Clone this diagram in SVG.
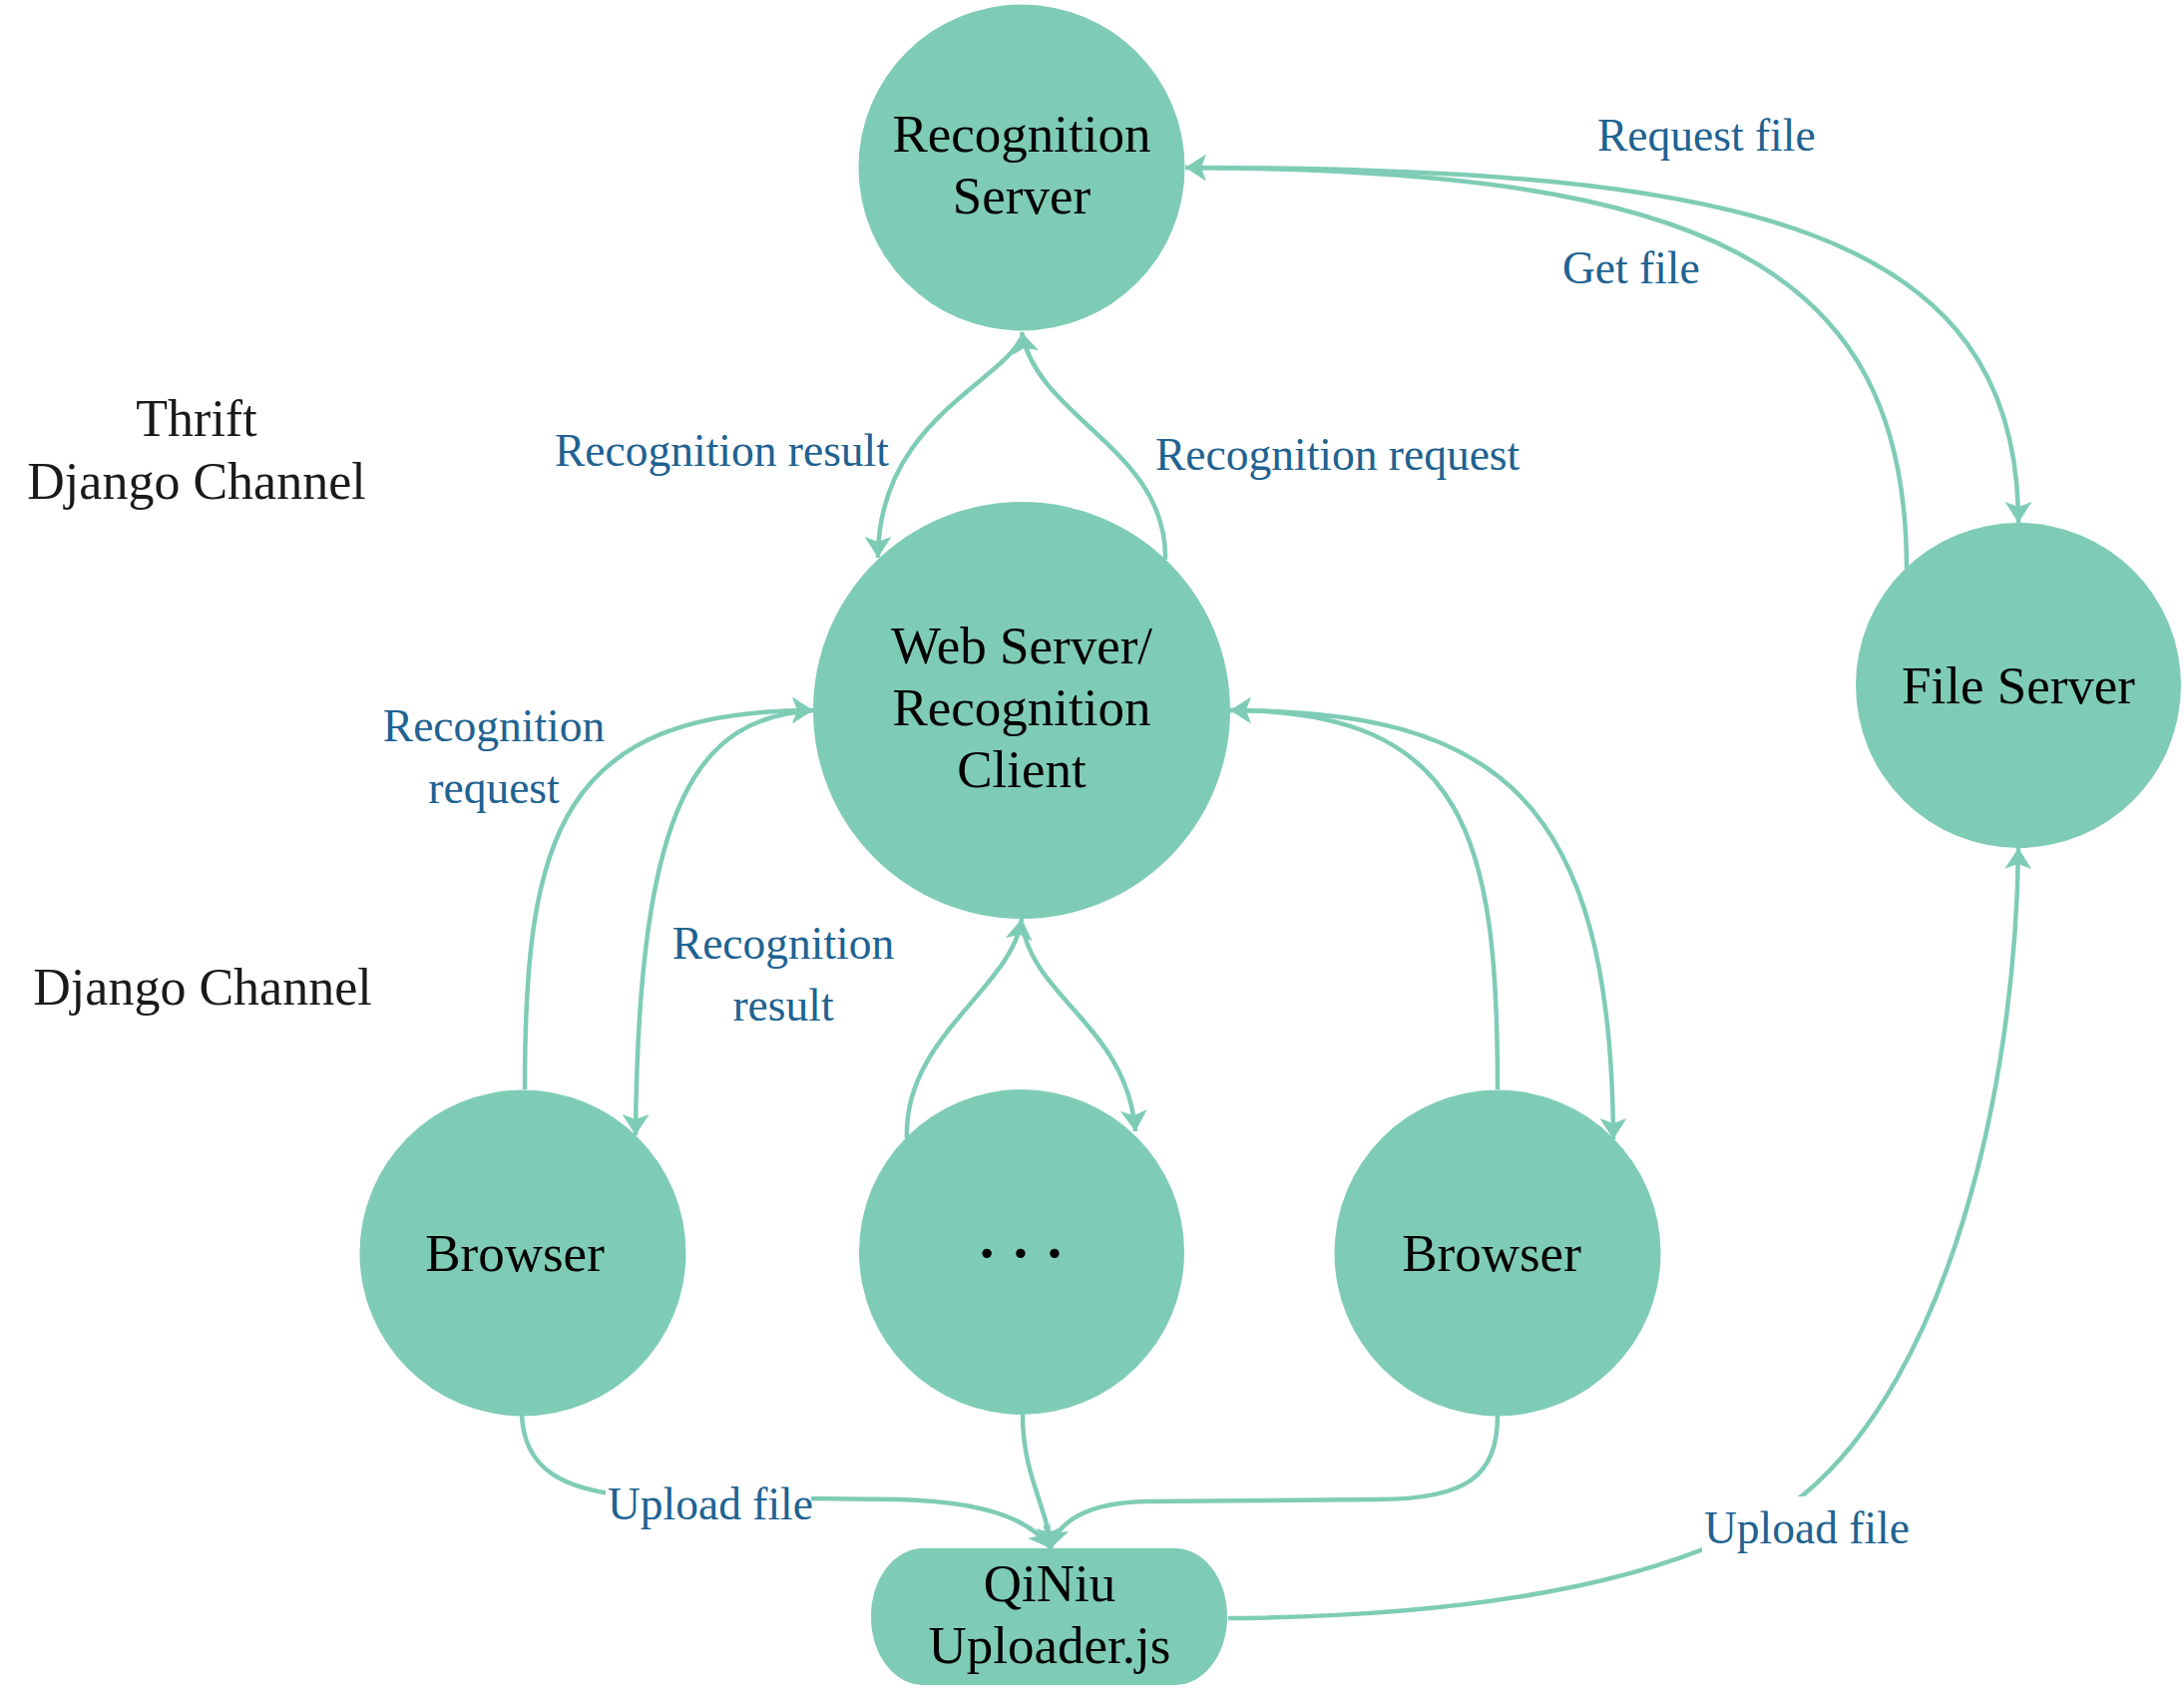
<svg xmlns="http://www.w3.org/2000/svg" width="2189" height="1692" viewBox="0 0 2189 1692">
<defs>
<style>
.node{fill:#7FCCB6;}
.nt{font-family:"Liberation Serif","Times New Roman",serif;font-size:53px;fill:#000;text-anchor:middle;}
.lbl{font-family:"Liberation Serif","Times New Roman",serif;font-size:45.5px;fill:#206291;}
.side{font-family:"Liberation Serif","Times New Roman",serif;font-size:52px;fill:#1a1a1a;text-anchor:middle;}
.edge{fill:none;stroke:#7FCCB6;stroke-width:4.5;}
.arr{marker-end:url(#ah);}
</style>
<marker id="ah" markerUnits="userSpaceOnUse" markerWidth="24" markerHeight="30" viewBox="0 0 24 30" refX="22" refY="15" orient="auto">
<path d="M22,15 L1,1.5 L6,15 L1,28.5 Z" fill="#7FCCB6"/>
</marker>
</defs>
<rect width="2189" height="1692" fill="#fff"/>
<g id="connectors">
<path class="edge arr" d="M1023,340 C1000,385 880,425 880,559"/>
<path class="edge arr" d="M1168,561 C1170,450 1040,420 1024,333"/>
<path class="edge arr" d="M1192,168 C1750,168 2023,230 2023,524"/>
<path class="edge arr" d="M1911,570 C1911,260 1700,170 1188,168"/>
<path class="edge arr" d="M526,1092 C526,840 560,712 815,712"/>
<path class="edge arr" d="M815,712 C700,720 640,800 637,1138"/>
<path class="edge arr" d="M909,1141 C905,1040 1015,990 1024,921"/>
<path class="edge arr" d="M1024,925 C1035,1000 1130,1030 1138,1134"/>
<path class="edge arr" d="M1501,1092 C1501,840 1470,712 1233,712"/>
<path class="edge arr" d="M1233,712 C1500,712 1615,800 1617,1142"/>
<path class="edge arr" d="M523,1418 C525,1470 560,1495 640,1500 L900,1503 C990,1505 1035,1525 1053,1552"/>
<path class="edge arr" d="M1025,1418 C1025,1480 1050,1510 1053,1552"/>
<path class="edge arr" d="M1501,1418 C1501,1480 1470,1503 1380,1503 L1150,1505 C1090,1506 1060,1525 1053,1552"/>
<path class="edge arr" d="M1231,1622 C1500,1620 1700,1580 1808,1498 C1950,1380 2020,1100 2023,850"/>
<rect x="607" y="1485" width="206" height="55" fill="#fff"/>
<rect x="1706" y="1500" width="210" height="62" fill="#fff"/>
<text class="lbl" x="556" y="467">Recognition result</text>
<text class="lbl" x="1158" y="471">Recognition request</text>
<text class="lbl" x="1601" y="151">Request file</text>
<text class="lbl" x="1566" y="284">Get file</text>
<text class="lbl" x="495" y="743" text-anchor="middle">Recognition</text>
<text class="lbl" x="495" y="805" text-anchor="middle">request</text>
<text class="lbl" x="785" y="961" text-anchor="middle">Recognition</text>
<text class="lbl" x="785" y="1023" text-anchor="middle">result</text>
<text class="lbl" x="609" y="1523">Upload file</text>
<text class="lbl" x="1708" y="1547">Upload file</text>
</g>
<g id="recognition-server">
<circle class="node" cx="1024" cy="168" r="163.5"/>
<text class="nt" x="1024" y="152">Recognition</text>
<text class="nt" x="1024" y="214">Server</text>
</g>
<g id="web-server">
<circle class="node" cx="1024" cy="712" r="209"/>
<text class="nt" x="1024" y="665">Web Server/</text>
<text class="nt" x="1024" y="727">Recognition</text>
<text class="nt" x="1024" y="789">Client</text>
</g>
<g id="file-server">
<circle class="node" cx="2023" cy="687" r="163"/>
<text class="nt" x="2023" y="705">File Server</text>
</g>
<g id="browser-left">
<circle class="node" cx="524" cy="1256" r="163.5"/>
<text class="nt" x="516" y="1274">Browser</text>
</g>
<g id="more-browsers">
<circle class="node" cx="1024" cy="1255" r="163"/>
<text class="nt" x="1023" y="1275" style="font-weight:bold;font-size:58px">· · ·</text>
</g>
<g id="browser-right">
<circle class="node" cx="1501" cy="1256" r="163.5"/>
<text class="nt" x="1495" y="1274">Browser</text>
</g>
<g id="qiniu">
<rect class="node" x="873" y="1552" width="357" height="137" rx="52" ry="68"/>
<text class="nt" x="1052" y="1605">QiNiu</text>
<text class="nt" x="1052" y="1667">Uploader.js</text>
</g>
<g id="legend">
<text class="side" x="197" y="437">Thrift</text>
<text class="side" x="197" y="500">Django Channel</text>
<text class="side" x="203" y="1007">Django Channel</text>
</g>
</svg>
